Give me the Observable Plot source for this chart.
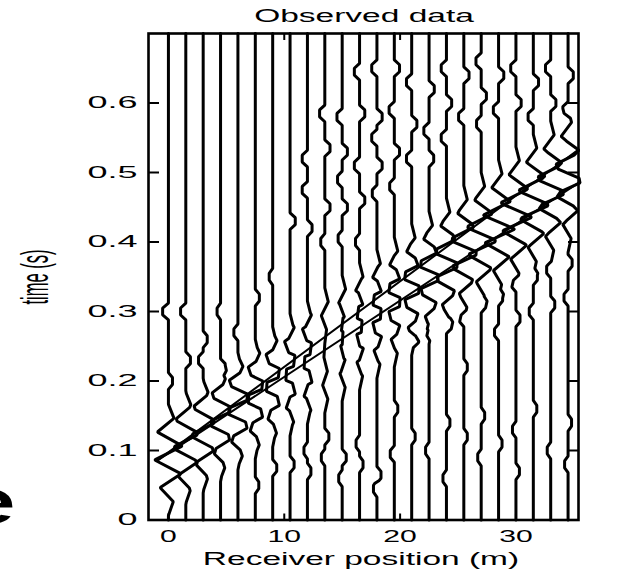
<!DOCTYPE html>
<html><head><meta charset="utf-8">
<script src="https://cdn.jsdelivr.net/npm/d3@7"></script>
<script src="https://cdn.jsdelivr.net/npm/@observablehq/plot@0.6"></script>
<style>body{margin:0;background:#fff}svg{display:block}</style>
</head><body><div id="chart"></div>
<script>
// receiver positions (m)
const receiverPos = [0,1.5,3,4.5,6,7.5,9,10.5,12,13.5,15,16.5,18,19.5,21,22.5,24,25.5,27,28.5,30,31.5,33,34.5];
// picked arrival times (s) of the two linear events, per trace
const arrivalA = [0.097,0.116,0.134,0.153,0.171,0.190,0.208,0.227,0.245,0.264,0.282,0.300,0.319,0.337,0.356,0.374,0.393,0.411,0.430,0.448,0.467,0.485,0.504,0.522];
const ampA     = [0.6,0.6,0.6,0.65,0.7,0.7,0.7,0.75,0.75,0.75,0.75,0.75,0.75,0.75,0.75,0.75,0.75,0.75,0.75,0.75,0.75,0.75,0.75,0.75];
const arrivalB = [0.096,0.112,0.129,0.145,0.162,0.178,0.195,0.211,0.228,0.244,0.261,0.277,0.294,0.310,0.327,0.343,0.360,0.376,0.393,0.409,0.425,0.442,0.458,0.475];
const ampB     = [0.6,0.6,0.6,0.65,0.7,0.7,0.7,0.75,0.75,0.75,0.75,0.75,0.75,0.75,0.75,0.75,0.75,0.75,0.75,0.75,0.75,0.75,0.75,0.75];
// small step-like jogs per trace: [time (s), deflection (m)]
const jogs = [
  [[0.30,-0.5],[0.20,0.35]],
  [[0.30,-0.45],[0.23,0.4]],
  [[0.23,-0.4],[0.26,0.35]],
  [[0.22,0.4],[0.30,-0.3]],
  [[0.27,-0.35]],
  [[0.32,0.35],[0.05,0.3]],
  [[0.35,-0.3],[0.075,0.35]],
  [[0.43,0.45],[0.08,0.35]],
  [[0.52,-0.45],[0.475,-0.45],[0.42,0.4],[0.10,-0.3],[0.07,0.3]],
  [[0.585,-0.45],[0.535,0.45],[0.45,0.45],[0.40,-0.35],[0.12,0.35],[0.09,-0.3]],
  [[0.58,-0.45],[0.53,0.45],[0.49,-0.4],[0.45,0.45],[0.405,-0.35],[0.09,0.35],[0.06,-0.3]],
  [[0.645,-0.45],[0.585,0.45],[0.51,-0.45],[0.46,0.45],[0.40,-0.35],[0.11,-0.3],[0.08,0.3]],
  [[0.65,-0.45],[0.58,0.45],[0.55,-0.45],[0.51,0.45],[0.47,-0.4],[0.065,0.35],[0.045,-0.3]],
  [[0.65,0.45],[0.59,-0.45],[0.53,0.45],[0.48,-0.4],[0.16,0.3],[0.095,-0.35]],
  [[0.63,-0.45],[0.57,0.45],[0.52,-0.45],[0.26,0.35],[0.12,0.3]],
  [[0.62,0.45],[0.56,-0.45],[0.52,0.4],[0.27,-0.35],[0.10,-0.3]],
  [[0.65,-0.45],[0.60,0.45],[0.55,-0.45],[0.28,0.35],[0.14,0.3],[0.06,-0.3]],
  [[0.64,0.45],[0.58,-0.45],[0.29,-0.35],[0.22,0.3],[0.12,0.3]],
  [[0.66,-0.45],[0.61,0.45],[0.57,-0.4],[0.31,0.35],[0.15,0.3],[0.09,-0.3]],
  [[0.64,0.45],[0.59,-0.45],[0.32,0.35],[0.27,-0.35],[0.11,0.3]],
  [[0.65,-0.45],[0.60,0.45],[0.34,-0.35],[0.29,0.35],[0.13,-0.3],[0.07,0.3]],
  [[0.63,0.45],[0.58,-0.45],[0.35,0.35],[0.30,-0.35],[0.16,0.3]],
  [[0.65,-0.45],[0.60,0.45],[0.36,-0.35],[0.31,0.35],[0.10,-0.3]],
  [[0.64,0.45],[0.59,-0.45],[0.37,0.35],[0.32,-0.35],[0.14,0.3],[0.08,-0.3]]
];
// wavelet shape (relative time s, relative deflection)
const waveletDt = [-0.09,-0.07,-0.05,-0.03,-0.01,0.01,0.03,0.05,0.07];
const waveletShape = [0,0.35,-0.6,0.9,-1,1,-0.8,0.4,0];
const jogDt = [-0.012,-0.005,0.005,0.012];
const jogShape = [0,1,1,0];
// overlay moveout lines (m, s)
const lineM = [-1.0,35.4];
const lineUpT = [0.085,0.533];
const lineLowT = [0.085,0.485];
const xTicks = [0,10,20,30];
const yTicks = [0,0.1,0.2,0.3,0.4,0.5,0.6];
const tMin = 0, tMax = 0.7;

function interp(dt,X,Y){
  if (dt <= X[0] || dt >= X[X.length-1]) return 0;
  for (let k=1;k<X.length;k++){
    if (dt <= X[k]){ const f=(dt-X[k-1])/(X[k]-X[k-1]); return Y[k-1]+f*(Y[k]-Y[k-1]); }
  }
  return 0;
}
const rows = [];
receiverPos.forEach((m,i)=>{
  const ev = [[arrivalA[i],ampA[i],waveletDt,waveletShape],[arrivalB[i],ampB[i],waveletDt,waveletShape],
              ...jogs[i].map(([t,a])=>[t,a,jogDt,jogShape])];
  const ts = new Set([tMin,tMax]);
  ev.forEach(([t0,a,X])=>X.forEach(d=>{const t=t0+d; if(t>tMin&&t<tMax) ts.add(+t.toFixed(5));}));
  [...ts].sort((a,b)=>a-b).forEach(t=>{
    let d=0; ev.forEach(([t0,a,X,Y])=>{ d += a*interp(t-t0,X,Y); });
    rows.push({trace:i,x:m+d,t});
  });
});
const lines = [];
lineM.forEach((m,k)=>{ lines.push({id:"up",x:m,t:lineUpT[k]}); lines.push({id:"low",x:m,t:lineLowT[k]}); });

const FONT = "'Liberation Sans', Arial, Helvetica, sans-serif";
const chart = Plot.plot({
  width:621, height:569,
  marginLeft:148, marginRight:43, marginTop:33, marginBottom:49.5,
  x:{domain:[-1.72,35.4]},
  y:{domain:[tMin,tMax]},
  style:{fontFamily:FONT, color:"#000", background:"#fff", overflow:"visible"},
  marks:[
    Plot.line(rows,{x:"x",y:"t",z:"trace",stroke:"#000",strokeWidth:3,strokeLinejoin:"miter"}),
    Plot.line(lines,{x:"x",y:"t",z:"id",stroke:"#000",strokeWidth:2}),
    Plot.frame({stroke:"#000",strokeWidth:2.6}),
    Plot.axisX(xTicks,{anchor:"bottom",tickSize:-6,tickPadding:16.5,fontSize:16.3,label:null,strokeWidth:2}),
    Plot.axisX(xTicks,{anchor:"top",tickSize:-6,tickFormat:()=>"",label:null,strokeWidth:2}),
    Plot.axisY(yTicks,{anchor:"left",tickSize:-11,tickPadding:22,fontSize:16,label:null,strokeWidth:2,tickFormat:d=>d===0?"0":d.toFixed(1)}),
    Plot.axisY(yTicks,{anchor:"right",tickSize:-11,tickFormat:()=>"",label:null,strokeWidth:2})
  ]
});
document.getElementById("chart").appendChild(chart);
const svg = d3.select(chart);
function stretch(sel,S){
  sel.each(function(){
    const t=d3.select(this); const x=+t.attr("x")||0, y=+t.attr("y")||0;
    const tr=t.attr("transform")||"";
    t.attr("transform",`${tr} translate(${x},${y}) scale(${S},1) translate(${-x},${-y})`);
  });
}
stretch(svg.selectAll("g[aria-label='y-axis tick label'] text"),2.25);
stretch(svg.selectAll("g[aria-label='x-axis tick label'] text"),1.85);
function addText(str,x,y,size,anchor,S,family){
  svg.append("text").attr("transform",`translate(${x},${y}) scale(${S},1)`)
    .attr("text-anchor",anchor).attr("font-size",size).attr("font-family",family||FONT).attr("fill","#000").text(str);
}
addText("Observed data",364,21.5,18.5,"middle",1.81);
addText("Receiver position (m)",361,565,18.5,"middle",1.81);
svg.append("text").attr("transform",`translate(48,277) scale(2.4,1) rotate(-90)`)
  .attr("text-anchor","middle").attr("font-size",16.5).attr("font-family",FONT).attr("fill","#000").text("time (s)");
addText("e",18,524,66,"end",1.9);
</script></body></html>
